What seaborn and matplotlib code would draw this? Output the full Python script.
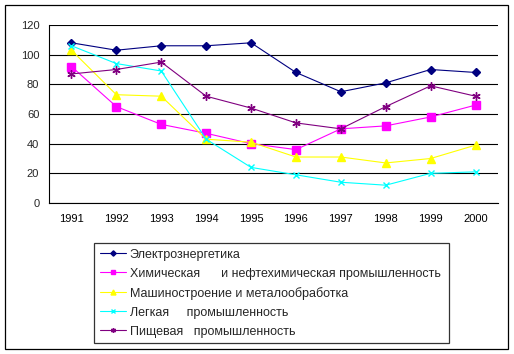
import pandas as pd
import seaborn as sns
import matplotlib.pyplot as plt
from matplotlib.patches import Rectangle

# Values
years = ['1991', '1992', '1993', '1994', '1995', '1996', '1997', '1998', '1999', '2000']
electro = [108, 103, 106, 106, 108, 88, 75, 81, 90, 88]
chem = [92, 65, 53, 47, 40, 36, 50, 52, 58, 66]
machine = [103, 73, 72, 43, 41, 31, 31, 27, 30, 39]
light = [106, 94, 89, 43, 24, 19, 14, 12, 20, 21]
food = [87, 90, 95, 72, 64, 54, 50, 65, 79, 72]

labels = ['Электрознергетика',
          'Химическая      и нефтехимическая промышленность',
          'Машиностроение и металообработка',
          'Легкая     промышленность',
          'Пищевая   промышленность']
series = [electro, chem, machine, light, food]
colors = ['#000080', '#FF00FF', '#FFFF00', '#00FFFF', '#800080']
markers = ['D', 's', '^', 'x', (6, 2, 0)]
msizes = [4.5, 5.5, 6, 5, 6]

sns.set_style('white')
plt.rcParams['font.family'] = ['Liberation Sans', 'DejaVu Sans']

fig = plt.figure(figsize=(5.14, 3.54), dpi=100)
ax = fig.add_axes([49 / 514, 1 - 203 / 354, (498 - 49) / 514, (203 - 25) / 354])

for lab, vals, c, m, ms in zip(labels, series, colors, markers, msizes):
    df = pd.DataFrame({'x': range(len(years)), 'y': vals})
    sns.lineplot(data=df, x='x', y='y', ax=ax, color=c, marker=m, markersize=ms,
                 markeredgecolor=c, markerfacecolor=c, markeredgewidth=1,
                 linewidth=0.8, label=lab)

ax.set_xlim(-0.5, len(years) - 0.5)
ax.set_ylim(0, 120)
ax.set_yticks(range(0, 121, 20))
ax.set_xticks(range(len(years)))
ax.set_xticklabels(years)
ax.set_xticks([i - 0.5 for i in range(len(years) + 1)], minor=True)
ax.tick_params(axis='x', which='major', length=0, pad=8, labelsize=8, colors='black')
ax.tick_params(axis='x', which='minor', length=4, width=0.8, direction='out', color='black')
ax.tick_params(axis='y', length=4, width=0.8, direction='out', labelsize=8, pad=3, color='black')
ax.set_xlabel('')
ax.set_ylabel('')
ax.yaxis.grid(True, color='black', linewidth=0.8)
ax.set_axisbelow(True)
for s in ['top', 'right']:
    ax.spines[s].set_visible(False)
for s in ['left', 'bottom']:
    ax.spines[s].set_color('black')
    ax.spines[s].set_linewidth(0.8)

handles, labs = ax.get_legend_handles_labels()
ax.get_legend().remove()
leg = fig.legend(handles, labs, loc='upper left',
                 bbox_to_anchor=(94 / 514, 1 - 243 / 354, (449 - 94) / 514, 0),
                 mode='expand', borderaxespad=0, fontsize=9, frameon=True, fancybox=False,
                 edgecolor='black', handlelength=2.1, handletextpad=0.3,
                 labelspacing=0.56, borderpad=0.45, markerscale=0.6)
leg.get_frame().set_linewidth(0.9)

fig.patches.append(Rectangle((5 / 514, 5 / 354), 503 / 514, 344 / 354, transform=fig.transFigure,
                             fill=False, edgecolor='black', linewidth=0.9))

fig.savefig('out.png', dpi=100)
